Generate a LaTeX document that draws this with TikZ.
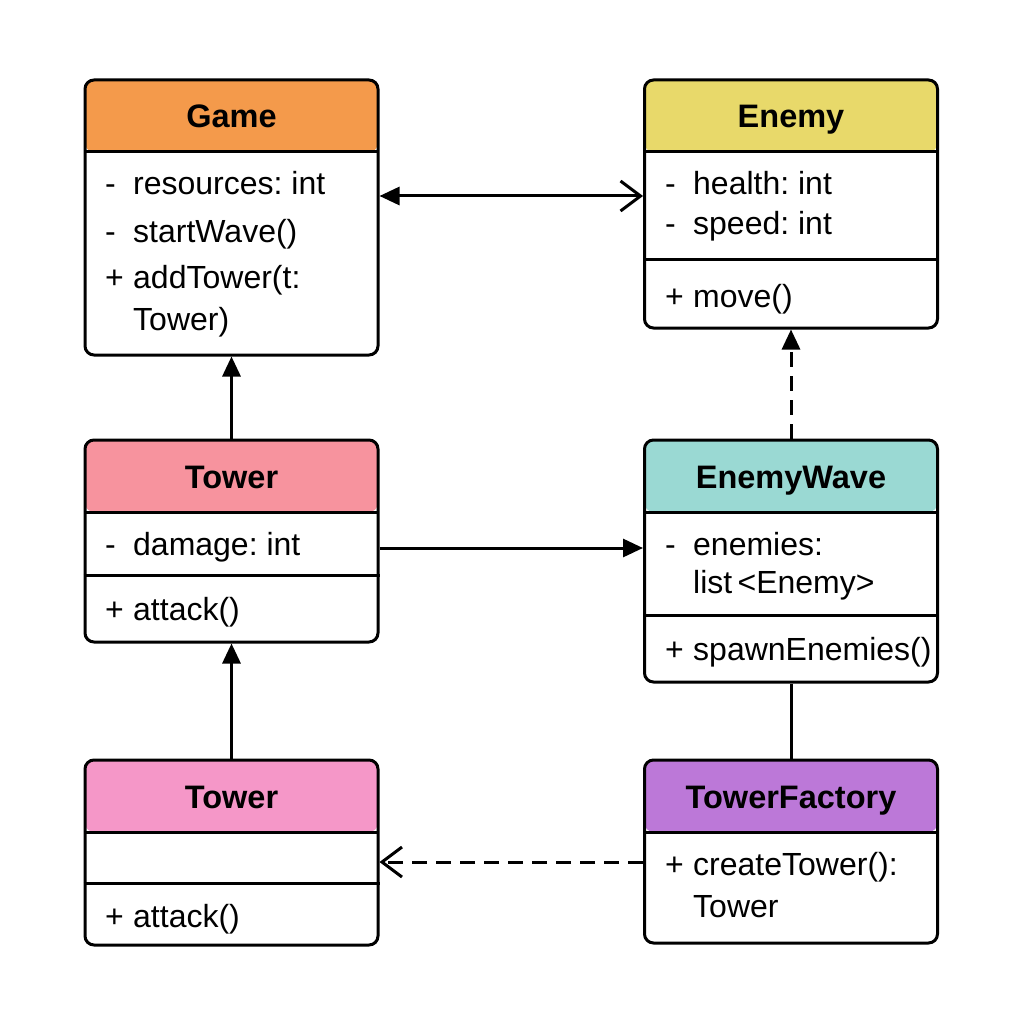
\documentclass[tikz,border=0pt]{standalone}
\usepackage{fontspec}
\setmainfont{Liberation Sans}
\usetikzlibrary{arrows.meta}

\definecolor{gameorange}{HTML}{F49A4B}
\definecolor{enemyyellow}{HTML}{E8D96A}
\definecolor{towerred}{HTML}{F7939E}
\definecolor{waveteal}{HTML}{9AD9D3}
\definecolor{towerpink}{HTML}{F597C8}
\definecolor{factorypurple}{HTML}{BC78D8}

\newcommand{\privmark}{\makebox[28pt][l]{-}}
\newcommand{\pubmark}{\makebox[28pt][l]{+}}

\tikzset{
  classbox/.style={draw, line width=3pt, rounded corners=9pt, minimum width=293pt, inner sep=0pt},
  header/.style={path picture={
      \fill[#1] (path picture bounding box.north west) rectangle ([yshift=-72pt]path picture bounding box.north east);
      \draw[line width=3pt] ([yshift=-72pt]path picture bounding box.north west) -- ([yshift=-72pt]path picture bounding box.north east);}},
  title/.style={anchor=base, inner sep=0pt, font=\fontsize{32.5}{38}\selectfont\bfseries},
  member/.style={anchor=base west, inner sep=0pt, font=\fontsize{32}{38}\selectfont},
  divider/.style={line width=3pt},
  link/.style={line width=3pt},
  dashlink/.style={line width=3pt, dash pattern=on 15pt off 9pt},
  solidtip/.style={-{Triangle[length=20pt, width=18pt]}},
  opentip/.style={-{Straight Barb[length=20pt, width=30pt, line width=3pt]}},
}

\begin{document}
\frenchspacing
\begin{tikzpicture}[x=1pt, y=-1pt]
  \useasboundingbox (0,0) rectangle (1024,1024);

  % class boxes
  \node[classbox, header=gameorange,    minimum height=275pt] (game)    at (231.5, 217.5) {};
  \node[classbox, header=enemyyellow,   minimum height=248pt] (enemy)   at (791, 204)     {};
  \node[classbox, header=towerred,      minimum height=202pt] (tower)   at (231.5, 541)   {};
  \node[classbox, header=waveteal,      minimum height=242pt] (wave)    at (791, 561)     {};
  \node[classbox, header=towerpink,     minimum height=185pt] (tower2)  at (231.5, 852.5) {};
  \node[classbox, header=factorypurple, minimum height=183pt] (factory) at (791, 851.5)   {};

  % compartments
  \draw[divider] ([yshift=-181pt]enemy.north west) -- ([yshift=-181pt]enemy.north east);
  \draw[divider] ([yshift=-137pt]tower.north west) -- ([yshift=-137pt]tower.north east);
  \draw[divider] ([yshift=-177pt]wave.north west) -- ([yshift=-177pt]wave.north east);
  \draw[divider] ([yshift=-125pt]tower2.north west) -- ([yshift=-125pt]tower2.north east);

  % titles
  \node[title] (gametitle)    at (231.5, 128) {Game};
  \node[title] (enemytitle)   at (791, 128)   {Enemy};
  \node[title] (towertitle)   at (231.5, 488) {Tower};
  \node[title] (wavetitle)    at (791, 488)   {EnemyWave};
  \node[title] (tower2title)  at (231.5, 808) {Tower};
  \node[title] (factorytitle) at (791, 808)   {TowerFactory};

  % members
  \node[member] (g1) at (105, 195) {\privmark resources: int};
  \node[member] (g2) at (105, 242) {\privmark startWave()};
  \node[member] (g3) at (105, 288) {\pubmark addTower(t:};
  \node[member] (g4) at (133, 330) {Tower)};
  \node[member] (e1) at (665, 195) {\privmark health: int};
  \node[member] (e2) at (665, 234) {\privmark speed: int};
  \node[member] (e3) at (665, 307) {\pubmark move()};
  \node[member] (t1) at (105, 555) {\privmark damage: int};
  \node[member] (t2) at (105, 620) {\pubmark attack()};
  \node[member] (w1) at (665, 555) {\privmark enemies:};
  \node[member] (w2) at (693, 593) {list\,<Enemy>};
  \node[member] (w3) at (665, 660) {\pubmark spawnEnemies()};
  \node[member] (s1) at (105, 927) {\pubmark attack()};
  \node[member] (f1) at (665, 875) {\pubmark createTower():};
  \node[member] (f2) at (693, 917) {Tower};

  % relations
  \draw[link, {Triangle[length=20pt, width=18pt]}-{Straight Barb[length=20pt, width=30pt, line width=3pt]}]
    ([yshift=21.5pt]game.east) -- ([yshift=21.5pt]game.east -| enemy.west);
  \draw[link, solidtip] (tower.north) -- (game.south);
  \draw[link, solidtip] (tower2.north) -- (tower.south);
  \draw[link, solidtip] ([yshift=-7pt]tower.east) -- ([yshift=-7pt]tower.east -| wave.west);
  \draw[dashlink, solidtip] (wave.north) -- (enemy.south);
  \draw[link] (wave.south) -- (factory.north);
  \draw[dashlink, opentip] ([yshift=-10.5pt]factory.west) -- ([yshift=-10.5pt]factory.west -| tower2.east);
\end{tikzpicture}
\end{document}
